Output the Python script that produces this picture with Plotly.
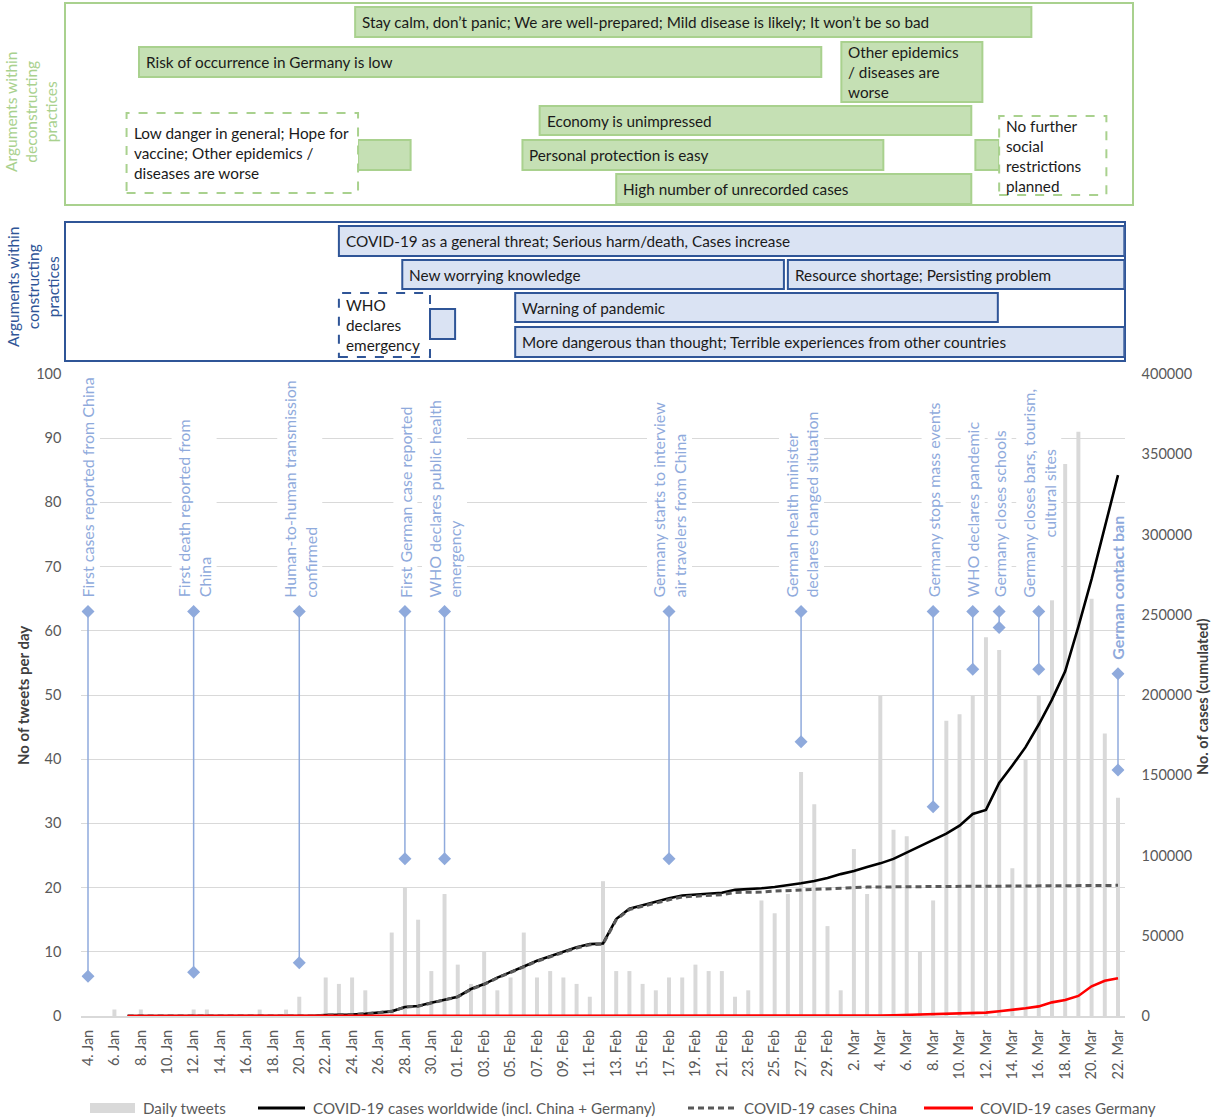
import plotly.graph_objects as go

W, H = 1213, 1117

# ---------------- data ----------------
days = list(range(79))  # 4 Jan 2020 ... 22 Mar 2020

tick_labels = ["4. Jan", "6. Jan", "8. Jan", "10. Jan", "12. Jan", "14. Jan", "16. Jan", "18. Jan",
               "20. Jan", "22. Jan", "24. Jan", "26. Jan", "28. Jan", "30. Jan", "01. Feb", "03. Feb",
               "05. Feb", "07. Feb", "09. Feb", "11. Feb", "13. Feb", "15. Feb", "17. Feb", "19. Feb",
               "21. Feb", "23. Feb", "25. Feb", "27. Feb", "29. Feb", "2. Mar", "4. Mar", "6. Mar",
               "8. Mar", "10. Mar", "12. Mar", "14. Mar", "16. Mar", "18. Mar", "20. Mar", "22. Mar"]

daily_tweets = [0, 0, 1, 0, 1, 0, 0, 0, 1, 1,
                0, 0, 0, 1, 0, 1, 3, 0, 6, 5,
                6, 4, 0, 13, 20, 15, 7, 19, 8, 5,
                10, 4, 6, 13, 6, 7, 6, 5, 3, 21,
                7, 7, 5, 4, 6, 6, 8, 7, 7, 3,
                4, 18, 16, 19, 38, 33, 14, 4, 26, 19,
                50, 29, 28, 10, 18, 46, 47, 50, 59, 57,
                23, 40, 50, 69, 86, 91, 65, 44, 34]

cases_world = [None, None, None, 0, 0, 0, 0, 0, 0, 0,
               0, 0, 0, 0, 0, 0, 0, 0, 600, 700,
               900, 1400, 2100, 2900, 5600, 6200, 8200, 9900, 12000, 16800,
               19900, 23900, 27600, 30800, 34400, 37100, 40200, 42800, 44800, 45200,
               60400, 66900, 69000, 71200, 73300, 75100, 75600, 76200, 76800, 78600,
               79000, 79600, 80400, 81400, 82700, 84100, 86000, 88400, 90300, 92800,
               95100, 97900, 101800, 105800, 109800, 113600, 118600, 125900, 128400, 145200,
               156100, 167500, 181600, 197100, 214800, 242600, 272200, 304500, 337000]

cases_china = [None, None, None, 0, 0, 0, 0, 0, 0, 0,
               0, 0, 0, 0, 0, 0, 0, 0, 550, 640,
               920, 1400, 2100, 2900, 5500, 6100, 8100, 9800, 11900, 16600,
               19700, 23700, 27400, 30600, 34100, 36800, 39800, 42400, 44400, 44800,
               59900, 66400, 68400, 70500, 72400, 74200, 74600, 75100, 75600, 77000,
               77000, 77200, 77800, 78200, 78600, 78900, 79400, 79900, 80100, 80300,
               80400, 80500, 80700, 80800, 80800, 80900, 80900, 80900, 80900, 80900,
               81000, 81000, 81000, 81100, 81100, 81200, 81300, 81300, 81400]

cases_germany = [None, None, None, 0, 0, 0, 0, 0, 0, 0,
                 0, 0, 0, 0, 0, 0, 0, 0, 0, 0,
                 0, 0, 0, 0, 0, 0, 0, 0, 0, 0,
                 0, 0, 0, 0, 0, 0, 0, 0, 0, 0,
                 0, 0, 0, 0, 0, 0, 0, 0, 0, 0,
                 20, 20, 20, 30, 50, 60, 80, 130, 160, 200,
                 300, 500, 700, 800, 1000, 1200, 1500, 1900, 2100, 3000,
                 3800, 4800, 6000, 8500, 10000, 12500, 18500, 22000, 23500]

series_names = ["Daily tweets", "COVID-19 cases worldwide (incl. China + Germany)",
                "COVID-19 cases China", "COVID-19 cases Germany"]

event_day = [0, 8, 16, 24, 27, 44, 54, 64, 67, 69, 72, 78]
event_top = [63, 63, 63, 63, 63, 63, 63, 63, 63, 63, 63, 53.3]
event_bottom = [6.2, 6.8, 8.3, 24.5, 24.5, 24.5, 42.7, 32.6, 54.0, 60.5, 54.0, 38.3]
event_label = ["First cases reported from China",
               "First death reported from<br>China",
               "Human-to-human transmission<br>confirmed",
               "First German case reported",
               "WHO declares public health<br>emergency",
               "Germany starts to interview<br>air travelers from China",
               "German health minister<br>declares changed situation",
               "Germany stops mass events",
               "WHO declares pandemic",
               "Germany closes schools",
               "Germany closes bars, tourism,<br>cultural sites",
               "<b>German contact ban</b>"]

# arguments within deconstructing practices (time spans in day index)
decon_text = [["Stay calm, don’t panic; We are well-prepared; Mild disease is likely; It won’t be so bad"],
              ["Risk of occurrence in Germany is low"],
              ["Other epidemics", "/ diseases are", "worse"],
              ["Economy is unimpressed"],
              ["Personal protection is easy"],
              ["High number of unrecorded cases"],
              [],
              ["Low danger in general; Hope for", "vaccine; Other epidemics /", "diseases are worse"],
              [],
              ["No further", "social", "restrictions", "planned"]]
decon_start = [20.23, 3.86, 57.05, 34.2, 32.9, 40.0, 20.45, 2.92, 67.2, 69.0]
decon_end = [71.44, 55.53, 67.73, 66.89, 60.23, 66.89, 24.43, 20.45, 69.0, 77.12]

# arguments within constructing practices
con_text = [["COVID-19 as a general threat; Serious harm/death, Cases increase"],
            ["New worrying knowledge"],
            ["Resource shortage; Persisting problem"],
            ["Warning of pandemic"],
            ["More dangerous than thought; Terrible experiences from other countries"],
            ["WHO", "declares", "emergency"],
            []]
con_start = [19.0, 23.8, 53.0, 32.35, 32.35, 19.0, 25.9]
con_end = [78.48, 52.7, 78.48, 68.9, 78.48, 25.9, 27.8]

# ---------------- layout helpers (pixel positions) ----------------
def py(p):
    return 1 - p / H

decon_rows = [(7, 37), (47, 77), (42, 102), (106, 135), (140, 170), (174, 204),
              (140, 170), (113, 193), (140, 170), (116, 195)]
decon_dashed = [False, False, False, False, False, False, False, True, False, True]
con_rows = [(226, 256), (260, 289), (260, 289), (293, 322), (327, 357), (293, 357), (309, 339)]
con_dashed = [False, False, False, False, False, True, False]

FONT = "Lato"
C_TWEET, C_WORLD, C_CHINA, C_GER = "#d9d9d9", "#000000", "#595959", "#ff0000"

fig = go.Figure()

fig.add_trace(go.Bar(x=days, y=daily_tweets, name=series_names[0], marker_color=C_TWEET,
                     marker_line_width=0, width=0.3, yaxis="y"))
fig.add_trace(go.Scatter(x=days, y=cases_world, name=series_names[1],
                         mode="lines", line=dict(color=C_WORLD, width=2.6), yaxis="y2"))
fig.add_trace(go.Scatter(x=days, y=cases_china, name=series_names[2], mode="lines",
                         line=dict(color=C_CHINA, width=3, dash="6px,4px"), yaxis="y2"))
fig.add_trace(go.Scatter(x=days, y=cases_germany, name=series_names[3], mode="lines",
                         line=dict(color=C_GER, width=2.6), yaxis="y2"))

# event drop lines
ex, ey = [], []
for d, t, b in zip(event_day, event_top, event_bottom):
    ex += [d, d, None]
    ey += [t, b, None]
fig.add_trace(go.Scatter(x=ex, y=ey, mode="lines+markers", showlegend=False, hoverinfo="skip",
                         line=dict(color="#8faadc", width=1.5),
                         marker=dict(symbol="diamond", size=10, color="#8faadc"), yaxis="y"))

for d, t, lab in zip(event_day, event_top, event_label):
    bold = lab.startswith("<b>")
    fig.add_annotation(x=d, y=t, xref="x", yref="y", text=lab, textangle=-90, showarrow=False,
                       xanchor="center", yanchor="bottom", yshift=11,
                       align="center" if "cultural" in lab else "left",
                       bgcolor="rgba(0,0,0,0)" if bold else "white", borderpad=2,
                       font=dict(family=FONT, size=16, color="#8faadc"))

# panels
fig.add_shape(type="rect", xref="paper", yref="paper", x0=65 / W, x1=1133 / W, y0=py(205), y1=py(3),
              line=dict(color="#a9d18e", width=2), fillcolor="rgba(0,0,0,0)")
fig.add_shape(type="rect", xref="paper", yref="paper", x0=65 / W, x1=1125 / W, y0=py(361), y1=py(222),
              line=dict(color="#2f5597", width=2), fillcolor="rgba(0,0,0,0)")


def add_boxes(texts, starts, ends, rows, dashed, fill, edge):
    for txt, s, e, (t, b), ds in zip(texts, starts, ends, rows, dashed):
        fig.add_shape(type="rect", xref="x", yref="paper", x0=s, x1=e, y0=py(b), y1=py(t),
                      fillcolor="white" if ds else fill,
                      line=dict(color=edge, width=2, dash="dash" if ds else "solid"))
        n = len(txt)
        c = (t + b) / 2
        for k, line in enumerate(txt):
            yc = c + (k - (n - 1) / 2) * 20
            fig.add_annotation(x=s, xref="x", y=py(yc), yref="paper", text=line, showarrow=False,
                               xanchor="left", yanchor="middle", xshift=5,
                               font=dict(family=FONT, size=15.3, color="#1a1a1a"))


add_boxes(decon_text, decon_start, decon_end, decon_rows, decon_dashed, "#c5e0b4", "#a9d18e")
add_boxes(con_text, con_start, con_end, con_rows, con_dashed, "#dae3f3", "#2f5597")

fig.add_annotation(x=31 / W, xref="paper", y=py(112), yref="paper", showarrow=False, textangle=-90,
                   xanchor="center", yanchor="middle",
                   text="Arguments within<br>deconstructing<br>practices", align="center",
                   font=dict(family=FONT, size=15.5, color="#a9d18e"))
fig.add_annotation(x=33 / W, xref="paper", y=py(287), yref="paper", showarrow=False, textangle=-90,
                   xanchor="center", yanchor="middle",
                   text="Arguments within<br>constructing<br>practices", align="center",
                   font=dict(family=FONT, size=15.5, color="#2f5597"))

# axis titles
fig.add_annotation(x=23 / W, xref="paper", y=py(696), yref="paper", showarrow=False, textangle=-90,
                   xanchor="center", yanchor="middle",
                   text="<b>No of tweets per day</b>", font=dict(family=FONT, size=15, color="#404040"))
fig.add_annotation(x=1202 / W, xref="paper", y=py(697), yref="paper", showarrow=False, textangle=-90,
                   xanchor="center", yanchor="middle",
                   text="<b>No. of cases (cumulated)</b>", font=dict(family=FONT, size=14.5, color="#404040"))

# legend (drawn below the axis, Excel-style)
leg_y = 1108
leg_swatch = [(90, 135), (258, 305), (688, 738), (924, 973)]
leg_text_x = [141, 311, 742, 978]
fig.add_shape(type="rect", xref="paper", yref="paper", x0=leg_swatch[0][0] / W, x1=leg_swatch[0][1] / W,
              y0=py(leg_y + 5), y1=py(leg_y - 5), fillcolor=C_TWEET, line=dict(width=0))
for (a, b), col, dsh in zip(leg_swatch[1:], [C_WORLD, C_CHINA, C_GER], ["solid", "6px,4px", "solid"]):
    fig.add_shape(type="line", xref="paper", yref="paper", x0=a / W, x1=b / W, y0=py(leg_y), y1=py(leg_y),
                  line=dict(color=col, width=3, dash=dsh))
for tx, name in zip(leg_text_x, series_names):
    fig.add_annotation(x=tx / W, xref="paper", y=py(leg_y), yref="paper", text=name, showarrow=False,
                       xanchor="left", yanchor="middle", font=dict(family=FONT, size=15.2, color="#595959"))

fig.update_layout(
    width=W, height=H, margin=dict(l=0, r=0, t=0, b=0, autoexpand=False),
    plot_bgcolor="white", paper_bgcolor="white",
    font=dict(family=FONT, size=14, color="#595959"),
    showlegend=False,
    xaxis=dict(domain=[81.4 / W, 1124.6 / W], range=[-0.5, 78.5], tickmode="array",
               tickvals=days[::2], ticktext=tick_labels, tickangle=-90, showgrid=False,
               showline=True, linecolor="#d9d9d9", linewidth=2, zeroline=False,
               ticks="outside", ticklen=6, tickcolor="rgba(0,0,0,0)",
               tickfont=dict(family=FONT, size=14.5, color="#595959")),
    yaxis=dict(domain=[py(1016), py(374)], range=[0, 100], dtick=10, showgrid=True,
               gridcolor="#d9d9d9", gridwidth=1, zeroline=False, showline=False,
               ticklabelstandoff=19, tickfont=dict(family=FONT, size=14.5, color="#595959")),
    yaxis2=dict(overlaying="y", side="right", range=[0, 400000], dtick=50000, showgrid=False,
                zeroline=False, showline=False, tickformat="d", ticklabelstandoff=16,
                tickfont=dict(family=FONT, size=14.5, color="#595959")),
)

fig.write_html("out.html", config={"displayModeBar": False},
               post_script="document.body.style.margin='0';document.body.style.overflow='hidden';")
